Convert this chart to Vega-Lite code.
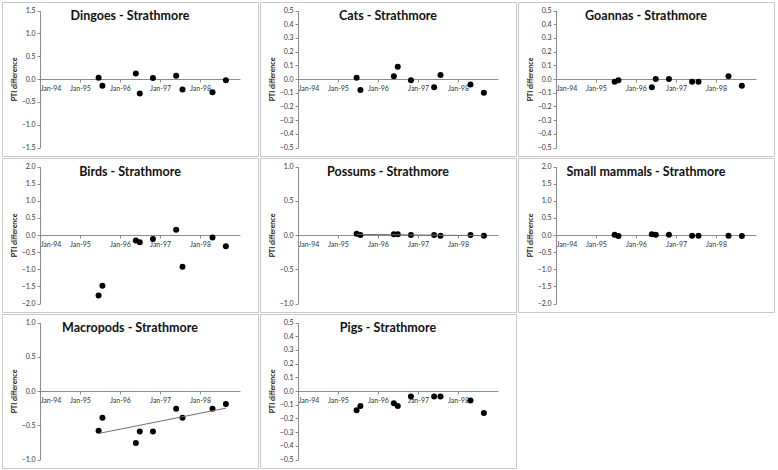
{
  "$schema": "https://vega.github.io/schema/vega-lite/v6.json",
  "padding": 1,
  "data": {
    "values": [
      {"species": "Dingoes", "date": "1995-06-20", "pti": 0.03},
      {"species": "Dingoes", "date": "1995-07-25", "pti": -0.15},
      {"species": "Dingoes", "date": "1996-05-25", "pti": 0.12},
      {"species": "Dingoes", "date": "1996-06-30", "pti": -0.32},
      {"species": "Dingoes", "date": "1996-10-28", "pti": 0.02},
      {"species": "Dingoes", "date": "1997-05-28", "pti": 0.07},
      {"species": "Dingoes", "date": "1997-07-25", "pti": -0.23},
      {"species": "Dingoes", "date": "1998-04-25", "pti": -0.29},
      {"species": "Dingoes", "date": "1998-08-25", "pti": -0.03},
      {"species": "Cats", "date": "1995-06-20", "pti": 0.01},
      {"species": "Cats", "date": "1995-07-25", "pti": -0.08},
      {"species": "Cats", "date": "1996-05-25", "pti": 0.02},
      {"species": "Cats", "date": "1996-06-30", "pti": 0.09},
      {"species": "Cats", "date": "1996-10-28", "pti": -0.01},
      {"species": "Cats", "date": "1997-05-28", "pti": -0.06},
      {"species": "Cats", "date": "1997-07-25", "pti": 0.03},
      {"species": "Cats", "date": "1998-04-25", "pti": -0.04},
      {"species": "Cats", "date": "1998-08-25", "pti": -0.1},
      {"species": "Goannas", "date": "1995-06-20", "pti": -0.02},
      {"species": "Goannas", "date": "1995-07-25", "pti": -0.01},
      {"species": "Goannas", "date": "1996-05-25", "pti": -0.06},
      {"species": "Goannas", "date": "1996-06-30", "pti": 0.0},
      {"species": "Goannas", "date": "1996-10-28", "pti": 0.0},
      {"species": "Goannas", "date": "1997-05-28", "pti": -0.02},
      {"species": "Goannas", "date": "1997-07-25", "pti": -0.02},
      {"species": "Goannas", "date": "1998-04-25", "pti": 0.02},
      {"species": "Goannas", "date": "1998-08-25", "pti": -0.05},
      {"species": "Birds", "date": "1995-06-20", "pti": -1.77},
      {"species": "Birds", "date": "1995-07-25", "pti": -1.48},
      {"species": "Birds", "date": "1996-05-25", "pti": -0.16},
      {"species": "Birds", "date": "1996-06-30", "pti": -0.21},
      {"species": "Birds", "date": "1996-10-28", "pti": -0.12},
      {"species": "Birds", "date": "1997-05-28", "pti": 0.15},
      {"species": "Birds", "date": "1997-07-25", "pti": -0.93},
      {"species": "Birds", "date": "1998-04-25", "pti": -0.07},
      {"species": "Birds", "date": "1998-08-25", "pti": -0.33},
      {"species": "Possums", "date": "1995-06-20", "pti": 0.02},
      {"species": "Possums", "date": "1995-07-25", "pti": 0.0},
      {"species": "Possums", "date": "1996-05-25", "pti": 0.01},
      {"species": "Possums", "date": "1996-06-30", "pti": 0.01},
      {"species": "Possums", "date": "1996-10-28", "pti": 0.0},
      {"species": "Possums", "date": "1997-05-28", "pti": 0.0},
      {"species": "Possums", "date": "1997-07-25", "pti": -0.01},
      {"species": "Possums", "date": "1998-04-25", "pti": 0.0},
      {"species": "Possums", "date": "1998-08-25", "pti": -0.01},
      {"species": "Small mammals", "date": "1995-06-20", "pti": 0.01},
      {"species": "Small mammals", "date": "1995-07-25", "pti": -0.03},
      {"species": "Small mammals", "date": "1996-05-25", "pti": 0.02},
      {"species": "Small mammals", "date": "1996-06-30", "pti": 0.01},
      {"species": "Small mammals", "date": "1996-10-28", "pti": 0.01},
      {"species": "Small mammals", "date": "1997-05-28", "pti": -0.02},
      {"species": "Small mammals", "date": "1997-07-25", "pti": -0.02},
      {"species": "Small mammals", "date": "1998-04-25", "pti": -0.02},
      {"species": "Small mammals", "date": "1998-08-25", "pti": -0.03},
      {"species": "Macropods", "date": "1995-06-20", "pti": -0.58},
      {"species": "Macropods", "date": "1995-07-25", "pti": -0.39},
      {"species": "Macropods", "date": "1996-05-25", "pti": -0.76},
      {"species": "Macropods", "date": "1996-06-30", "pti": -0.59},
      {"species": "Macropods", "date": "1996-10-28", "pti": -0.59},
      {"species": "Macropods", "date": "1997-05-28", "pti": -0.26},
      {"species": "Macropods", "date": "1997-07-25", "pti": -0.39},
      {"species": "Macropods", "date": "1998-04-25", "pti": -0.26},
      {"species": "Macropods", "date": "1998-08-25", "pti": -0.19},
      {"species": "Pigs", "date": "1995-06-20", "pti": -0.14},
      {"species": "Pigs", "date": "1995-07-25", "pti": -0.11},
      {"species": "Pigs", "date": "1996-05-25", "pti": -0.09},
      {"species": "Pigs", "date": "1996-06-30", "pti": -0.11},
      {"species": "Pigs", "date": "1996-10-28", "pti": -0.04},
      {"species": "Pigs", "date": "1997-05-28", "pti": -0.04},
      {"species": "Pigs", "date": "1997-07-25", "pti": -0.04},
      {"species": "Pigs", "date": "1998-04-25", "pti": -0.07},
      {"species": "Pigs", "date": "1998-08-25", "pti": -0.16}
    ]
  },
  "datasets": {
    "trend": [
      {"species": "Possums", "date": "1995-06-20", "pti": 0.01},
      {"species": "Possums", "date": "1998-08-25", "pti": -0.01},
      {"species": "Macropods", "date": "1995-06-20", "pti": -0.62},
      {"species": "Macropods", "date": "1998-08-25", "pti": -0.25}
    ]
  },
  "columns": 3,
  "concat": [
    {
      "width": 256, "height": 154,
      "title": "Dingoes - Strathmore",
      "transform": [{"filter": "datum.species === 'Dingoes'"}],
      "mark": {"type": "circle", "color": "black", "size": 36, "opacity": 1},
      "encoding": {
        "x": {"field": "date", "type": "temporal", "scale": {"type": "utc", "domain": [{"year": 1994, "month": 1, "date": 1, "utc": true}, {"year": 1999, "month": 1, "date": 1, "utc": true}], "range": [38, 238]}, "axis": {"values": [{"year": 1994, "utc": true}, {"year": 1995, "utc": true}, {"year": 1996, "utc": true}, {"year": 1997, "utc": true}, {"year": 1998, "utc": true}], "format": "%b-%y"}},
        "y": {"field": "pti", "type": "quantitative", "title": "PTI difference", "scale": {"domain": [-1.5, 1.5], "range": [145.5, 8.5], "nice": false, "zero": false}, "axis": {"values": [-1.5, -1, -0.5, 0, 0.5, 1, 1.5], "format": ".1f"}}
      }
    },
    {
      "width": 256, "height": 154,
      "title": "Cats - Strathmore",
      "transform": [{"filter": "datum.species === 'Cats'"}],
      "mark": {"type": "circle", "color": "black", "size": 36, "opacity": 1},
      "encoding": {
        "x": {"field": "date", "type": "temporal", "scale": {"type": "utc", "domain": [{"year": 1994, "month": 1, "date": 1, "utc": true}, {"year": 1999, "month": 1, "date": 1, "utc": true}], "range": [38, 238]}, "axis": {"values": [{"year": 1994, "utc": true}, {"year": 1995, "utc": true}, {"year": 1996, "utc": true}, {"year": 1997, "utc": true}, {"year": 1998, "utc": true}], "format": "%b-%y"}},
        "y": {"field": "pti", "type": "quantitative", "title": "PTI difference", "scale": {"domain": [-0.5, 0.5], "range": [145.5, 8.5], "nice": false, "zero": false}, "axis": {"values": [-0.5, -0.4, -0.3, -0.2, -0.1, 0, 0.1, 0.2, 0.3, 0.4, 0.5], "format": ".1f"}}
      }
    },
    {
      "width": 256, "height": 154,
      "title": "Goannas - Strathmore",
      "transform": [{"filter": "datum.species === 'Goannas'"}],
      "mark": {"type": "circle", "color": "black", "size": 36, "opacity": 1},
      "encoding": {
        "x": {"field": "date", "type": "temporal", "scale": {"type": "utc", "domain": [{"year": 1994, "month": 1, "date": 1, "utc": true}, {"year": 1999, "month": 1, "date": 1, "utc": true}], "range": [38, 238]}, "axis": {"values": [{"year": 1994, "utc": true}, {"year": 1995, "utc": true}, {"year": 1996, "utc": true}, {"year": 1997, "utc": true}, {"year": 1998, "utc": true}], "format": "%b-%y"}},
        "y": {"field": "pti", "type": "quantitative", "title": "PTI difference", "scale": {"domain": [-0.5, 0.5], "range": [145.5, 8.5], "nice": false, "zero": false}, "axis": {"values": [-0.5, -0.4, -0.3, -0.2, -0.1, 0, 0.1, 0.2, 0.3, 0.4, 0.5], "format": ".1f"}}
      }
    },
    {
      "width": 256, "height": 154,
      "title": "Birds - Strathmore",
      "transform": [{"filter": "datum.species === 'Birds'"}],
      "mark": {"type": "circle", "color": "black", "size": 36, "opacity": 1},
      "encoding": {
        "x": {"field": "date", "type": "temporal", "scale": {"type": "utc", "domain": [{"year": 1994, "month": 1, "date": 1, "utc": true}, {"year": 1999, "month": 1, "date": 1, "utc": true}], "range": [38, 238]}, "axis": {"values": [{"year": 1994, "utc": true}, {"year": 1995, "utc": true}, {"year": 1996, "utc": true}, {"year": 1997, "utc": true}, {"year": 1998, "utc": true}], "format": "%b-%y"}},
        "y": {"field": "pti", "type": "quantitative", "title": "PTI difference", "scale": {"domain": [-2, 2], "range": [145.5, 8.5], "nice": false, "zero": false}, "axis": {"values": [-2, -1.5, -1, -0.5, 0, 0.5, 1, 1.5, 2], "format": ".1f"}}
      }
    },
    {
      "width": 256, "height": 154,
      "title": "Possums - Strathmore",
      "layer": [
        {
          "transform": [{"filter": "datum.species === 'Possums'"}],
          "mark": {"type": "circle", "color": "black", "size": 36, "opacity": 1}
        },
        {
          "data": {"name": "trend"},
          "transform": [{"filter": "datum.species === 'Possums'"}],
          "mark": {"type": "line", "color": "#6f6f6f", "strokeWidth": 1}
        }
      ],
      "encoding": {
        "x": {"field": "date", "type": "temporal", "scale": {"type": "utc", "domain": [{"year": 1994, "month": 1, "date": 1, "utc": true}, {"year": 1999, "month": 1, "date": 1, "utc": true}], "range": [38, 238]}, "axis": {"values": [{"year": 1994, "utc": true}, {"year": 1995, "utc": true}, {"year": 1996, "utc": true}, {"year": 1997, "utc": true}, {"year": 1998, "utc": true}], "format": "%b-%y"}},
        "y": {"field": "pti", "type": "quantitative", "title": "PTI difference", "scale": {"domain": [-1, 1], "range": [145.5, 8.5], "nice": false, "zero": false}, "axis": {"values": [-1, -0.5, 0, 0.5, 1], "format": ".1f"}}
      }
    },
    {
      "width": 256, "height": 154,
      "title": "Small mammals - Strathmore",
      "transform": [{"filter": "datum.species === 'Small mammals'"}],
      "mark": {"type": "circle", "color": "black", "size": 36, "opacity": 1},
      "encoding": {
        "x": {"field": "date", "type": "temporal", "scale": {"type": "utc", "domain": [{"year": 1994, "month": 1, "date": 1, "utc": true}, {"year": 1999, "month": 1, "date": 1, "utc": true}], "range": [38, 238]}, "axis": {"values": [{"year": 1994, "utc": true}, {"year": 1995, "utc": true}, {"year": 1996, "utc": true}, {"year": 1997, "utc": true}, {"year": 1998, "utc": true}], "format": "%b-%y"}},
        "y": {"field": "pti", "type": "quantitative", "title": "PTI difference", "scale": {"domain": [-2, 2], "range": [145.5, 8.5], "nice": false, "zero": false}, "axis": {"values": [-2, -1.5, -1, -0.5, 0, 0.5, 1, 1.5, 2], "format": ".1f"}}
      }
    },
    {
      "width": 256, "height": 154,
      "title": "Macropods - Strathmore",
      "layer": [
        {
          "transform": [{"filter": "datum.species === 'Macropods'"}],
          "mark": {"type": "circle", "color": "black", "size": 36, "opacity": 1}
        },
        {
          "data": {"name": "trend"},
          "transform": [{"filter": "datum.species === 'Macropods'"}],
          "mark": {"type": "line", "color": "#6f6f6f", "strokeWidth": 1}
        }
      ],
      "encoding": {
        "x": {"field": "date", "type": "temporal", "scale": {"type": "utc", "domain": [{"year": 1994, "month": 1, "date": 1, "utc": true}, {"year": 1999, "month": 1, "date": 1, "utc": true}], "range": [38, 238]}, "axis": {"values": [{"year": 1994, "utc": true}, {"year": 1995, "utc": true}, {"year": 1996, "utc": true}, {"year": 1997, "utc": true}, {"year": 1998, "utc": true}], "format": "%b-%y"}},
        "y": {"field": "pti", "type": "quantitative", "title": "PTI difference", "scale": {"domain": [-1, 1], "range": [145.5, 8.5], "nice": false, "zero": false}, "axis": {"values": [-1, -0.5, 0, 0.5, 1], "format": ".1f"}}
      }
    },
    {
      "width": 256, "height": 154,
      "title": "Pigs - Strathmore",
      "transform": [{"filter": "datum.species === 'Pigs'"}],
      "mark": {"type": "circle", "color": "black", "size": 36, "opacity": 1},
      "encoding": {
        "x": {"field": "date", "type": "temporal", "scale": {"type": "utc", "domain": [{"year": 1994, "month": 1, "date": 1, "utc": true}, {"year": 1999, "month": 1, "date": 1, "utc": true}], "range": [38, 238]}, "axis": {"values": [{"year": 1994, "utc": true}, {"year": 1995, "utc": true}, {"year": 1996, "utc": true}, {"year": 1997, "utc": true}, {"year": 1998, "utc": true}], "format": "%b-%y"}},
        "y": {"field": "pti", "type": "quantitative", "title": "PTI difference", "scale": {"domain": [-0.5, 0.5], "range": [145.5, 8.5], "nice": false, "zero": false}, "axis": {"values": [-0.5, -0.4, -0.3, -0.2, -0.1, 0, 0.1, 0.2, 0.3, 0.4, 0.5], "format": ".1f"}}
      }
    }
  ],
  "config": {
    "font": "Lato",
    "view": {"stroke": "#c9c9c9", "strokeWidth": 1},
    "concat": {"spacing": 0},
    "axis": {
      "grid": false,
      "labelFont": "Lato",
      "labelFontSize": 7,
      "labelColor": "#333333",
      "domainColor": "#8c8c8c",
      "tickColor": "#8c8c8c",
      "tickSize": 3,
      "titleFont": "Lato",
      "titleFontSize": 7,
      "titleFontWeight": "bold",
      "titleColor": "#222222"
    },
    "axisX": {"offset": -77, "labelPadding": 2, "title": null, "labelOverlap": false},
    "axisY": {"offset": -38, "labelPadding": 2, "titlePadding": 4},
    "title": {"font": "Lato", "fontSize": 12.5, "fontWeight": "bold", "color": "#111111", "offset": -20, "anchor": "middle"}
  }
}
